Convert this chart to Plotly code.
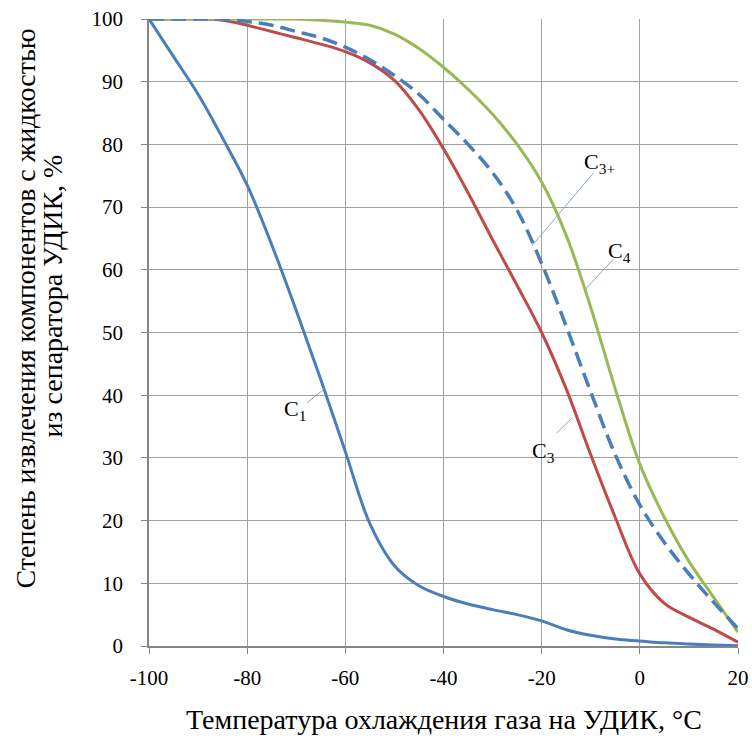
import plotly.graph_objects as go

# Temperatures (°C)
temps = [-100, -95, -90, -85, -80, -75, -70, -65, -60, -55, -50, -45, -40,
         -35, -30, -25, -20, -15, -10, -5, 0, 5, 10, 15, 20]

c1 = [100, 94, 88, 81, 73.5, 64, 53.5, 42.5, 31, 19.5, 12.8, 9.6, 7.9,
      6.7, 5.8, 5.0, 4.0, 2.6, 1.7, 1.1, 0.8, 0.5, 0.3, 0.15, 0.05]
c3 = [100, 100, 100, 99.8, 99, 98, 97, 96, 94.8, 93, 90.2, 85.5, 79.3,
      72.3, 64.8, 57.5, 50, 41, 30.5, 20.5, 11.5, 6.8, 4.6, 2.7, 0.6]
c3p = [100, 100, 100, 100, 99.6, 99, 98, 97, 95.5, 93.5, 91, 88, 84,
       80, 75.5, 69.5, 61, 51, 40.5, 30.5, 22.5, 16.5, 11.5, 7, 2.8]
c4 = [100, 100, 100, 100, 100, 100, 100, 99.8, 99.5, 99, 97.6, 95.3, 92.3,
      88.8, 84.8, 80, 74, 65.5, 54, 41, 29, 20.5, 13.5, 7.8, 2.2]

x_ticks = [-100, -80, -60, -40, -20, 0, 20]
x_tick_text = ["-100", "-80", "-60", "-40", "-20", "0", "20"]

font_family = "Liberation Serif"
blue = "#4A7EBB"
red = "#BE4B48"
green = "#98B954"

fig = go.Figure()
fig.add_trace(go.Scatter(x=temps, y=c1, mode="lines", name="C1",
                         line=dict(color=blue, width=3, shape="spline")))
fig.add_trace(go.Scatter(x=temps, y=c3, mode="lines", name="C3",
                         line=dict(color=red, width=3, shape="spline")))
fig.add_trace(go.Scatter(x=temps, y=c4, mode="lines", name="C4",
                         line=dict(color=green, width=3, shape="spline")))
fig.add_trace(go.Scatter(x=temps, y=c3p, mode="lines", name="C3+",
                         line=dict(color=blue, width=3.5, shape="spline",
                                   dash="15px,7px")))

# Curve labels (text, label position, leader line start/end)
labels = [
    ("C<sub>1</sub>", -70.3, 37.6, -67.8, 38.8, -64.3, 41.0),
    ("C<sub>3+</sub>", -8.2, 77.0, -9.5, 75.4, -22.0, 63.8),
    ("C<sub>4</sub>", -4.2, 62.8, -5.5, 61.6, -11.2, 56.8),
    ("C<sub>3</sub>", -19.7, 30.9, -16.9, 34.0, -13.8, 36.4),
]
leader_color = "rgb(140,165,200)"
for text, lx, ly, x0, y0, x1, y1 in labels:
    fig.add_annotation(x=lx, y=ly, text=text, showarrow=False,
                       font=dict(family=font_family, size=22, color="black"))
    fig.add_shape(type="line", x0=x0, y0=y0, x1=x1, y1=y1,
                  line=dict(color=leader_color, width=1))

# Y-axis title (two lines)
fig.add_annotation(xref="paper", yref="paper", x=-0.209, y=0.538,
                   text="Степень извлечения компонентов с жидкостью",
                   textangle=-90, showarrow=False, xanchor="center", yanchor="middle",
                   font=dict(family=font_family, size=28, color="black"))
fig.add_annotation(xref="paper", yref="paper", x=-0.164, y=0.558,
                   text="из сепаратора УДИК, %",
                   textangle=-90, showarrow=False, xanchor="center", yanchor="middle",
                   font=dict(family=font_family, size=28, color="black"))
# X-axis title
fig.add_annotation(xref="paper", yref="paper", x=0.5, y=-0.118,
                   text="Температура охлаждения газа на УДИК, °C",
                   showarrow=False, xanchor="center", yanchor="middle",
                   font=dict(family=font_family, size=28, color="black"))

fig.update_layout(
    width=752, height=749,
    margin=dict(l=149, r=14, t=19, b=103, autoexpand=False),
    paper_bgcolor="white", plot_bgcolor="white",
    showlegend=False,
    font=dict(family=font_family, size=21, color="black"),
)
fig.update_xaxes(range=[-100, 20], tickvals=x_ticks, ticktext=x_tick_text,
                 automargin=False,
                 showgrid=True, gridcolor="#A0A0A0", gridwidth=1,
                 showline=True, linecolor="#868686", linewidth=1.5,
                 ticks="outside", ticklen=6, tickcolor="#868686",
                 zeroline=False, tickfont=dict(family=font_family, size=21),
                 ticklabelstandoff=6)
fig.update_yaxes(range=[0, 100], dtick=10, automargin=False,
                 showgrid=True, gridcolor="#A0A0A0", gridwidth=1,
                 showline=True, linecolor="#868686", linewidth=1.5,
                 ticks="outside", ticklen=6, tickcolor="#868686",
                 zeroline=False, tickfont=dict(family=font_family, size=21),
                 ticklabelstandoff=14)

fig.write_html("out.html")
